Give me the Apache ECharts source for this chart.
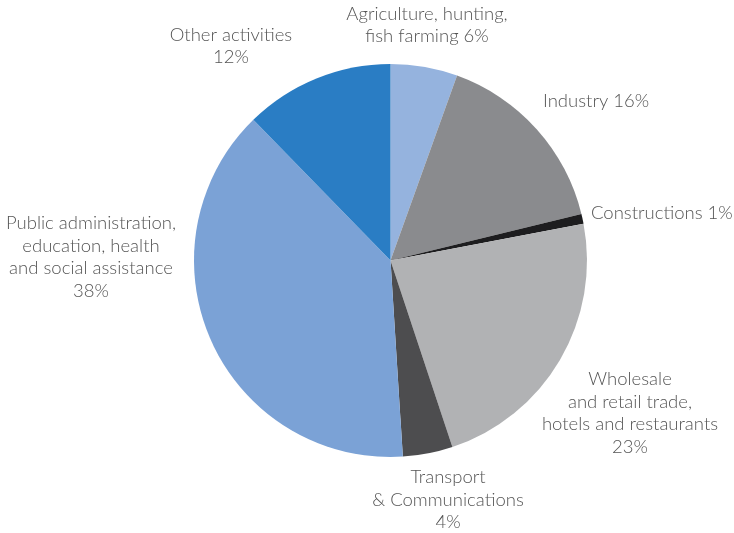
<!DOCTYPE html>
<html>
<head>
<meta charset="utf-8">
<script src="https://cdn.jsdelivr.net/npm/echarts@6/dist/echarts.min.js"></script>
<style>
  html, body { margin: 0; padding: 0; background: #fff; }
  #main { width: 734px; height: 533px; }
</style>
</head>
<body>
<div id="main"></div>
<script>
// sectors, clockwise from 12 o'clock
var sectors = [
    'Agriculture, hunting,\nfish farming',
    'Industry',
    'Constructions',
    'Wholesale\nand retail trade,\nhotels and restaurants',
    'Transport\n& Communications',
    'Public administration,\neducation, health\nand social assistance',
    'Other activities'
];
// slice sizes
var shares = [5.5, 15.7, 0.8, 22.9, 4.1, 38.7, 12.3];
// percentages printed in the labels
var pctLabels = ['6%', '16%', '1%', '23%', '4%', '38%', '12%'];
// whether the percent goes on its own line
var pctNewLine = [false, false, false, true, true, true, true];
var colors = ['#95b3de', '#8a8b8e', '#1d1d1f', '#b1b2b4', '#4d4d4f', '#7ba2d6', '#2a7dc4'];

// where each label sits (center of text block), and its alignment
var labelSpots = [
    [427, 25, 'center'],
    [543, 101, 'left'],
    [591, 213, 'left'],
    [630, 413, 'center'],
    [448, 500, 'center'],
    [91, 257, 'center'],
    [231, 46, 'center']
];

var data = [];
for (var i = 0; i < sectors.length; i++) {
    data.push({
        name: sectors[i],
        value: shares[i],
        itemStyle: { color: colors[i] },
        label: { align: labelSpots[i][2] }
    });
}

var myChart = echarts.init(document.getElementById('main'));
myChart.setOption({
    animation: false,
    series: [{
        type: 'pie',
        center: [390.5, 260.5],
        radius: 196.5,
        startAngle: 90,
        clockwise: true,
        avoidLabelOverlap: false,
        data: data,
        itemStyle: { borderWidth: 0 },
        label: {
            show: true,
            position: 'outside',
            fontFamily: 'Lato',
            fontWeight: 300,
            fontSize: 18.5,
            lineHeight: 22.5,
            color: '#555555',
            formatter: function (p) {
                var i = p.dataIndex;
                return p.name + (pctNewLine[i] ? '\n' : ' ') + pctLabels[i];
            }
        },
        labelLine: { show: false },
        labelLayout: function (params) {
            var s = labelSpots[params.dataIndex];
            return { x: s[0], y: s[1], align: s[2], verticalAlign: 'middle' };
        }
    }]
});
</script>
</body>
</html>
